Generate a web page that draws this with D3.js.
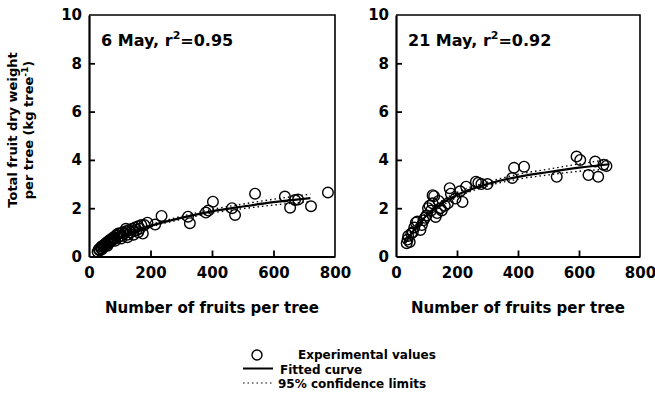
<!DOCTYPE html>
<html>
<head>
<meta charset="utf-8">
<script src="https://cdn.jsdelivr.net/npm/d3@7"></script>
<style>
  body { margin: 0; background: #fff; }
  text { font-family: "DejaVu Sans", sans-serif; fill: #000; }
</style>
</head>
<body>
<script>
// ticks
var xTicks = [0, 200, 400, 600, 800];
var yTicks = [0, 2, 4, 6, 8, 10];

// 6 May - experimental values
var mayX6 = [28, 32, 35, 38, 40, 42, 45, 48, 50, 52, 55, 58, 60, 63, 65, 68, 70, 72, 75, 78, 80, 85, 88, 90, 95,
             100, 105, 110, 115, 120, 125, 130, 135, 140, 145, 150, 155, 160, 165, 170, 175, 180, 190, 215, 236,
             322, 328, 380, 388, 403, 465, 475, 540, 637, 654, 670, 680, 722, 777,
             60, 85, 105, 125, 145, 160, 120, 95];
var mayY6 = [0.2, 0.3, 0.25, 0.35, 0.4, 0.3, 0.45, 0.4, 0.5, 0.45, 0.55, 0.5, 0.6, 0.55, 0.65, 0.6, 0.7, 0.62, 0.75, 0.7, 0.8, 0.75, 0.85, 0.9, 0.8,
             0.95, 0.85, 1.0, 0.95, 1.05, 0.9, 1.1, 1.0, 1.15, 1.05, 1.2, 1.1, 1.25, 1.15, 1.3, 0.95, 1.3, 1.4, 1.32, 1.68,
             1.65, 1.38, 1.82, 1.9, 2.27, 2.0, 1.72, 2.6, 2.48, 2.02, 2.34, 2.36, 2.08, 2.65,
             0.45, 0.65, 0.75, 0.8, 0.9, 1.0, 1.15, 0.95];
// 6 May - fitted curve and 95% limits
var fitX6 = [30, 50, 100, 150, 200, 300, 400, 500, 600, 720];
var fitY6 = [0.28, 0.45, 0.78, 1.05, 1.27, 1.6, 1.87, 2.07, 2.25, 2.42];
var upY6  = [0.32, 0.5, 0.83, 1.1, 1.32, 1.66, 1.95, 2.17, 2.37, 2.58];
var loY6  = [0.24, 0.4, 0.73, 1.0, 1.22, 1.54, 1.8, 1.98, 2.13, 2.27];

// 21 May - experimental values
var mayX21 = [35, 38, 40, 45, 50, 55, 60, 65, 70, 80, 85, 90, 95, 100, 105, 110, 115, 120, 120, 125, 130, 135, 140,
              145, 150, 160, 170, 176, 180, 195, 210, 218, 230, 262, 270, 280, 300, 381, 387, 420, 527, 592, 604,
              631, 653, 663, 680, 690];
var mayY21 = [0.55, 0.7, 0.85, 0.6, 0.95, 1.0, 1.2, 1.4, 1.45, 1.1, 1.3, 1.5, 1.6, 1.7, 2.0, 2.1, 1.9, 2.2, 2.54, 2.5, 1.64, 1.8, 2.3,
              2.0, 1.9, 2.1, 2.2, 2.83, 2.6, 2.4, 2.7, 2.26, 2.89, 3.1, 3.05, 3.0, 3.0, 3.25, 3.67, 3.72, 3.3, 4.14, 4.0,
              3.37, 3.93, 3.3, 3.8, 3.75];
// 21 May - fitted curve and 95% limits
var fitX21 = [30, 50, 100, 150, 200, 300, 400, 500, 600, 700];
var fitY21 = [0.55, 0.95, 1.7, 2.2, 2.55, 3.0, 3.3, 3.5, 3.68, 3.82];
var upY21  = [0.65, 1.05, 1.8, 2.3, 2.65, 3.08, 3.4, 3.62, 3.83, 4.02];
var loY21  = [0.45, 0.85, 1.6, 2.1, 2.45, 2.92, 3.2, 3.38, 3.53, 3.62];

var svg = d3.select("body").append("svg")
    .attr("width", 655)
    .attr("height", 403);

function zip(xs, ys) {
    return xs.map(function(d, i) { return [d, ys[i]]; });
}

function makePanel(left, right, label, r2, px, py, fx, fy, uy, ly) {
    var top = 15, bottom = 256.5;
    var x = d3.scaleLinear().domain([0, 800]).range([left, right]);
    var y = d3.scaleLinear().domain([0, 10]).range([bottom, top]);

    var g = svg.append("g");

    // frame top + right
    g.append("path")
        .attr("d", "M" + left + "," + top + "H" + right + "V" + bottom)
        .attr("fill", "none").attr("stroke", "#000").attr("stroke-width", 1.6);

    var xa = g.append("g")
        .attr("transform", "translate(0," + bottom + ")")
        .call(d3.axisBottom(x).tickValues(xTicks).tickSizeInner(-6).tickSizeOuter(0).tickPadding(11));
    var ya = g.append("g")
        .attr("transform", "translate(" + left + ",0)")
        .call(d3.axisLeft(y).tickValues(yTicks).tickSizeInner(-6).tickSizeOuter(0).tickPadding(7));
    [xa, ya].forEach(function(a) {
        a.select(".domain").attr("stroke-width", 2.2);
        a.selectAll(".tick line").attr("stroke-width", 1.8);
        a.selectAll("text")
            .style("font-family", "'DejaVu Sans', sans-serif")
            .style("font-size", "15px").style("font-weight", "bold");
    });
    xa.selectAll(".tick").filter(function(d) { return d == 0 || d == 800; }).select("line").remove();
    ya.selectAll(".tick").filter(function(d) { return d == 0 || d == 10; }).select("line").remove();

    // confidence limits
    var line = d3.line().curve(d3.curveMonotoneX)
        .x(function(d) { return x(d[0]); })
        .y(function(d) { return y(d[1]); });
    [uy, ly].forEach(function(vals) {
        g.append("path").datum(zip(fx, vals))
            .attr("d", line).attr("fill", "none")
            .attr("stroke", "#000").attr("stroke-width", 1.4)
            .attr("stroke-dasharray", "1.5,3");
    });

    // points
    g.selectAll(".pt").data(zip(px, py)).enter().append("circle")
        .attr("class", "pt")
        .attr("cx", function(d) { return x(d[0]); })
        .attr("cy", function(d) { return y(d[1]); })
        .attr("r", 5.3)
        .attr("fill", "none").attr("stroke", "#000").attr("stroke-width", 1.4);

    // fitted curve
    g.append("path").datum(zip(fx, fy))
        .attr("d", line).attr("fill", "none")
        .attr("stroke", "#000").attr("stroke-width", 2.2);

    // panel label
    var t = g.append("text")
        .attr("x", left + 12).attr("y", 46)
        .style("font-size", "16px").style("font-weight", "bold");
    t.append("tspan").text(label + ", r");
    t.append("tspan").attr("dy", -7).style("font-size", "11px").text("2");
    t.append("tspan").attr("dy", 7).text("=" + r2);

    // x title
    g.append("text")
        .attr("x", (left + right) / 2).attr("y", 313)
        .style("text-anchor", "middle")
        .style("font-size", "15px").style("font-weight", "bold")
        .text("Number of fruits per tree");
}

makePanel(89, 335, "6 May", "0.95", mayX6, mayY6, fitX6, fitY6, upY6, loY6);
makePanel(396, 640, "21 May", "0.92", mayX21, mayY21, fitX21, fitY21, upY21, loY21);

// y title
var yt = svg.append("text")
    .attr("transform", "translate(0,130) rotate(-90)")
    .style("text-anchor", "middle")
    .style("font-size", "13px").style("font-weight", "bold");
yt.append("tspan").attr("x", 0).attr("y", 17).text("Total fruit dry weight");
var l2 = yt.append("tspan").attr("x", 0).attr("y", 33);
l2.append("tspan").text("per tree (kg tree");
l2.append("tspan").attr("dy", -5).style("font-size", "9px").text("-1");
l2.append("tspan").attr("dy", 5).text(")");

// legend
var lg = svg.append("g").style("font-size", "12px").style("font-weight", "bold");
lg.append("circle").attr("cx", 257).attr("cy", 355).attr("r", 5)
    .attr("fill", "none").attr("stroke", "#000").attr("stroke-width", 1.4);
lg.append("text").attr("x", 298).attr("y", 359).text("Experimental values");
lg.append("line").attr("x1", 243).attr("x2", 273).attr("y1", 368.5).attr("y2", 368.5)
    .attr("stroke", "#000").attr("stroke-width", 2);
lg.append("text").attr("x", 280).attr("y", 373.5).text("Fitted curve");
lg.append("line").attr("x1", 243).attr("x2", 273).attr("y1", 383).attr("y2", 383)
    .attr("stroke", "#000").attr("stroke-width", 1.2).attr("stroke-dasharray", "1.5,3");
lg.append("text").attr("x", 278).attr("y", 388).text("95% confidence limits");
</script>
</body>
</html>
